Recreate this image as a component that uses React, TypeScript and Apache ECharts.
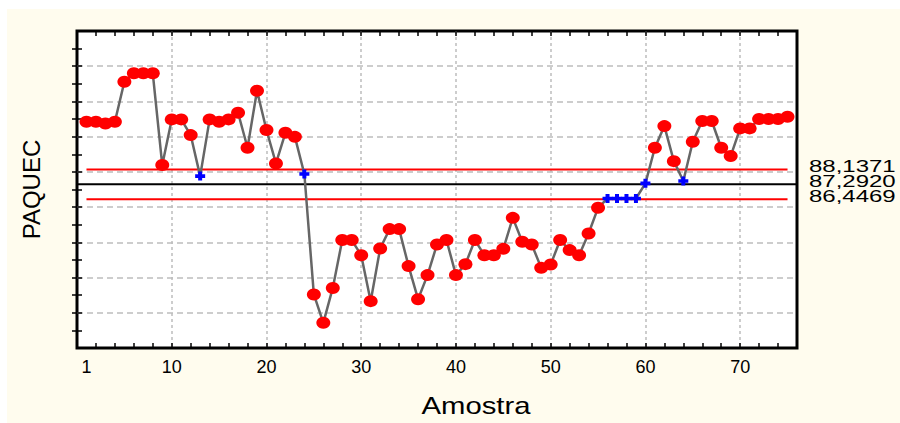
import React, { useEffect, useRef } from 'react';
import * as echarts from 'echarts';

const sampleNumbers: number[] = Array.from({ length: 75 }, (_, i) => i + 1);

const paquec: number[] = [
  90.85, 90.85, 90.75, 90.85, 93.12, 93.6, 93.6, 93.6, 88.39, 90.98,
  90.98, 90.09, 87.76, 90.98, 90.85, 90.98, 91.36, 89.37, 92.61, 90.38,
  88.48, 90.22, 89.99, 87.88, 81.04, 79.43, 81.41, 84.13, 84.13, 83.27,
  80.66, 83.65, 84.75, 84.75, 82.65, 80.77, 82.14, 83.88, 84.13, 82.14,
  82.76, 84.13, 83.27, 83.27, 83.63, 85.39, 84.03, 83.88, 82.55, 82.74,
  84.13, 83.56, 83.27, 84.5, 85.96, 86.49, 86.49, 86.49, 86.49, 87.35,
  89.37, 90.6, 88.61, 87.48, 89.71, 90.89, 90.89, 89.37, 88.9, 90.47,
  90.47, 91.0, 91.0, 91.0, 91.13,
];

const flaggedSamples: number[] = [13, 24, 56, 57, 58, 59, 60, 64];

const UCL = 88.1371;
const CL = 87.292;
const LCL = 86.4469;
const limitLabels: string[] = ['88,1371', '87,2920', '86,4469'];

const xLabelValues: number[] = [1, 10, 20, 30, 40, 50, 60, 70];
const xTickValues: number[] = [2, 4, 6, 8, 10, 12, 14, 16, 18, 20, 22, 24, 26, 28, 30, 32, 34, 36, 38, 40, 42, 44, 46, 48, 50, 52, 54, 56, 58, 60, 62, 64, 66, 68, 70, 72, 74];
const yTickValues: number[] = [79, 80, 81, 82, 83, 84, 85, 86, 87, 88, 89, 90, 91, 92, 93, 94, 95];

const FONT = 'Liberation Sans, Arial, sans-serif';
const CROSS = 'path://M3,0H7V3H10V7H7V10H3V7H0V3H3Z';

export default function App() {
  const ref = useRef<HTMLDivElement>(null);

  useEffect(() => {
    document.body.style.margin = '0';
    const chart = echarts.init(ref.current!, undefined, { renderer: 'svg' });

    const tickAxisCommon = {
      axisLine: { show: false },
      axisLabel: { show: false },
      splitLine: { show: false },
      axisTick: { show: true, inside: true, length: 5, lineStyle: { color: '#000', width: 1.5 } },
    };

    const points = sampleNumbers.map((s, i) => {
      const flagged = flaggedSamples.includes(s);
      return {
        value: [s, paquec[i]],
        symbol: flagged ? CROSS : 'circle',
        symbolSize: flagged ? [10, 9] : [14, 12],
        itemStyle: { color: flagged ? '#0000ff' : '#ff0000' },
      };
    });

    const limitLine = (y: number, x0: number, x1: number, color: string) => ({
      type: 'line',
      xAxisIndex: 0,
      yAxisIndex: 0,
      data: [[x0, y], [x1, y]],
      showSymbol: false,
      silent: true,
      z: 1,
      lineStyle: { color, width: 2 },
    });

    chart.setOption({
      animation: false,
      backgroundColor: 'transparent',
      grid: {
        left: 77,
        right: 103,
        top: 31,
        bottom: 75,
        show: true,
        backgroundColor: '#ffffff',
        borderColor: '#000',
        borderWidth: 3,
      },
      xAxis: [
        {
          type: 'value',
          min: 0,
          max: 76,
          interval: 10,
          position: 'bottom',
          axisLine: { show: false },
          axisTick: { show: false },
          axisLabel: {
            customValues: xLabelValues,
            color: '#000',
            fontSize: 18,
            fontFamily: FONT,
            margin: 10,
          },
          splitLine: { show: true, showMinLine: false, showMaxLine: false, lineStyle: { color: '#bdbdbd', width: 1.5, type: [3, 3] } },
        },
        {
          type: 'value', min: 0, max: 76, position: 'bottom',
          ...tickAxisCommon,
          axisTick: { ...tickAxisCommon.axisTick, customValues: xTickValues },
        },
        {
          type: 'value', min: 0, max: 76, position: 'top',
          ...tickAxisCommon,
          axisTick: { ...tickAxisCommon.axisTick, customValues: xTickValues },
        },
      ],
      yAxis: [
        {
          type: 'value',
          min: 78,
          max: 96,
          interval: 2,
          position: 'left',
          name: 'PAQUEC',
          nameLocation: 'middle',
          nameGap: 34,
          nameTextStyle: { color: '#000', fontSize: 24, fontFamily: FONT },
          axisLine: { show: false },
          axisTick: { show: false },
          axisLabel: { show: false },
          splitLine: { show: true, showMinLine: false, showMaxLine: false, lineStyle: { color: '#bdbdbd', width: 1.5, type: [6, 4] } },
        },
        {
          type: 'value', min: 78, max: 96, position: 'left',
          ...tickAxisCommon,
          axisTick: { ...tickAxisCommon.axisTick, customValues: yTickValues },
        },
        {
          type: 'value', min: 78, max: 96, position: 'right',
          ...tickAxisCommon,
          axisTick: { ...tickAxisCommon.axisTick, customValues: yTickValues },
        },
      ],
      series: [
        limitLine(UCL, 1, 75, '#ff0000'),
        limitLine(CL, 0, 76, '#000000'),
        limitLine(LCL, 1, 75, '#ff0000'),
        {
          type: 'line',
          xAxisIndex: 0,
          yAxisIndex: 0,
          data: points,
          z: 3,
          lineStyle: { color: '#666666', width: 2.5 },
          showAllSymbol: true,
        },
      ],
      graphic: [
        {
          type: 'text', x: 476, y: 406, scaleX: 1.22,
          style: { text: 'Amostra', fontSize: 24, fontFamily: FONT, fill: '#000', align: 'center', verticalAlign: 'middle' },
        },
        ...limitLabels.map((t, i) => ({
          type: 'text', x: 809, y: 167 + i * 15, scaleX: 1.5,
          style: { text: t, fontSize: 16, fontFamily: FONT, fill: '#000', align: 'left', verticalAlign: 'middle' },
        })),
      ],
    });

    return () => chart.dispose();
  }, []);

  return (
    <div style={{ position: 'absolute', left: 0, top: 0, width: 900, height: 423, background: '#ffffff' }}>
      <div style={{ position: 'absolute', left: 7, top: 9, right: 0, bottom: 0, background: '#fffcee' }} />
      <div ref={ref} style={{ position: 'absolute', left: 0, top: 0, width: 900, height: 423 }} />
    </div>
  );
}
